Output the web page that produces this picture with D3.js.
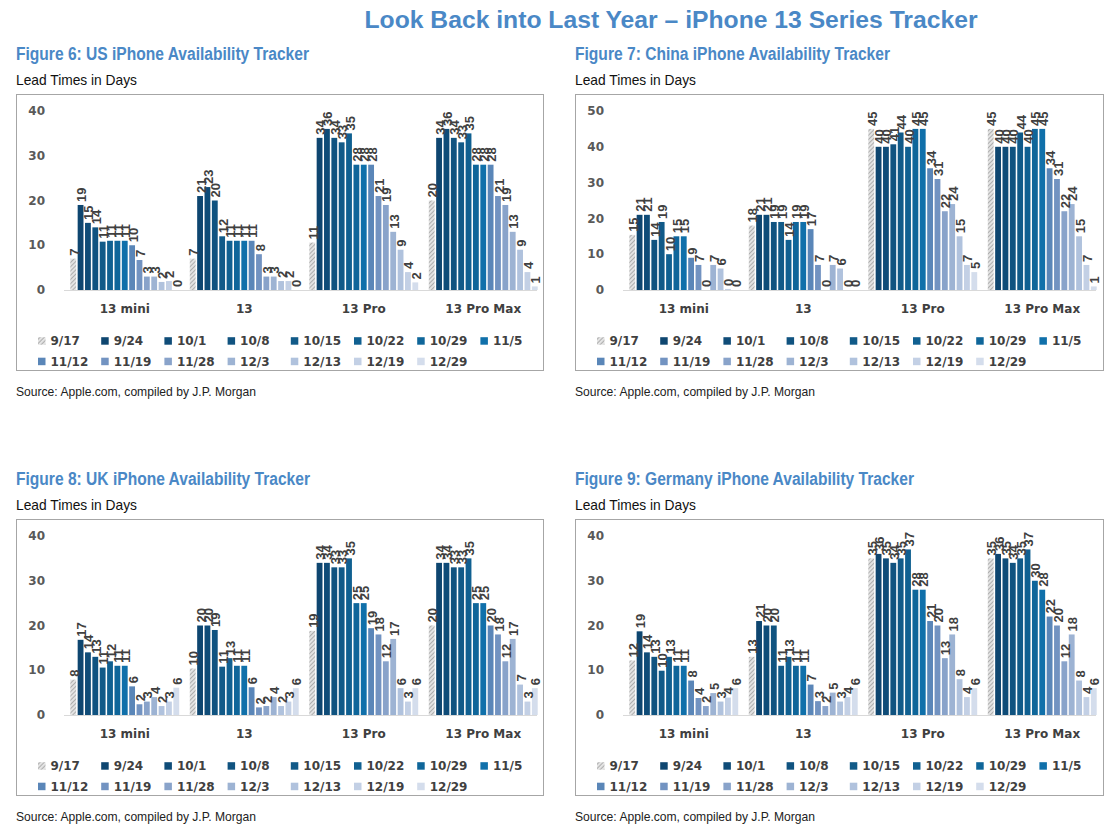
<!DOCTYPE html>
<html><head><meta charset="utf-8">
<script src="https://cdn.jsdelivr.net/npm/d3@7"></script>
<style>
body{margin:0;background:#fff;}
svg{display:block;}
</style></head>
<body>
<svg id="chart" width="1107" height="827"></svg>
<script>
// ---------- DATA ----------
const categories = ["13 mini", "13", "13 Pro", "13 Pro Max"];
const dates = ["9/17","9/24","10/1","10/8","10/15","10/22","10/29","11/5","11/12","11/19","11/28","12/3","12/13","12/19","12/29"];
const seriesColors = ["hatch","#0e4670","#0f4c78","#105380","#115a88","#106091","#0f669a","#1070aa","#5a86b8","#7293c1","#89a3ca","#9db3d3","#b0c2dd","#c3d0e5","#d4ddec"];

const usMini   = [7,19,15,14,10.8,11,11,11,10,6.7,3,3,1.8,2,0];
const us13     = [7,21,23,20,12,11,11,11,11,8,3,3,2,2,0];
const usPro    = [10.6,34,36,34,33,35,28,28,28,21,19,13,9,4,1.7];
const usProMax = [20,34,36,34,33,35,28,28,28,21,19,13,9,4,0.8];

const cnMini   = [15.4,21,21,14,19,10,15,15,9,7,0,7,6,0.3,0];
const cn13     = [18,21,21,19,19,14,19,19,17,7,0,7,6,0,0];
const cnPro    = [45,40,40,40.7,44,40,45,45,34,31,22,24,15,7,5];
const cnProMax = [45,40,40,40,44,40,45,45,34,31,22,24,15,7,1];

const ukMini   = [7.9,16.8,14,13,10.6,12,11,11,6.4,2.4,3,4,2,3,6.1];
const uk13     = [10.4,20,20,19,10.8,12.7,11,11,6.2,1.7,2,4,2,3,6];
const ukPro    = [18.8,34,34,33,33,35,25,25,19.4,18,12,17,6,3,6];
const ukProMax = [20,34,34,33,33,35,25,25,20,18,12,17,6.8,3,6];

const deMini   = [12.2,18.7,14,13,9.9,13,11,11,7.7,3.8,2,4.9,3,3.9,6];
const de13     = [13,21,20,20,11,13,11,11,6.8,3.1,2,5,3,4,6];
const dePro    = [35,36,35,34,35,37,28,28,21,20,12.7,18,8,4,6];
const deProMax = [35,36,35,34,35,37,30,28,22,20,12,18,7.7,4,6];

const yTicksUS = [0,10,20,30,40];
const yTicksCN = [0,10,20,30,40,50];

const mainTitle = "Look Back into Last Year – iPhone 13 Series Tracker";
const panels = [
  {title:"Figure 6: US iPhone Availability Tracker", tw:293, values:[usMini,us13,usPro,usProMax], ticks:yTicksUS, ox:16, oy:0, w:527},
  {title:"Figure 7: China iPhone Availability Tracker", tw:315, values:[cnMini,cn13,cnPro,cnProMax], ticks:yTicksCN, ox:575, oy:0, w:528},
  {title:"Figure 8: UK iPhone Availability Tracker", tw:294, values:[ukMini,uk13,ukPro,ukProMax], ticks:yTicksUS, ox:16, oy:425, w:527},
  {title:"Figure 9: Germany iPhone Availability Tracker", tw:339, values:[deMini,de13,dePro,deProMax], ticks:yTicksUS, ox:575, oy:425, w:528}
];
const subtitle = "Lead Times in Days";
const source = "Source: Apple.com, compiled by J.P. Morgan";

// ---------- DRAW ----------
const svg = d3.select("#chart");
const NARROW = "'Liberation Sans Narrow','Arial Narrow','Liberation Sans',Arial,sans-serif";
const CHART_FONT = "'DejaVu Sans',sans-serif";
const LABEL_FONT = "'Liberation Sans',Arial,sans-serif";
const BLUE = "#4a88c6";

const defs = svg.append("defs");
const pat = defs.append("pattern").attr("id","hatch").attr("patternUnits","userSpaceOnUse")
  .attr("width",3).attr("height",3).attr("patternTransform","rotate(45)");
pat.append("rect").attr("width",3).attr("height",3).attr("fill","#e3e3e3");
pat.append("line").attr("x1",0).attr("y1",0).attr("x2",0).attr("y2",3).attr("stroke","#8a8a8a").attr("stroke-width",1.2);
const fillOf = i => seriesColors[i] === "hatch" ? "url(#hatch)" : seriesColors[i];

svg.append("text").attr("x",671).attr("y",28).attr("text-anchor","middle")
  .attr("font-family",LABEL_FONT).attr("font-weight","bold").attr("font-size",23)
  .attr("fill",BLUE).attr("textLength",613).attr("lengthAdjust","spacingAndGlyphs").text(mainTitle);

panels.forEach(p => {
  const g = svg.append("g").attr("transform",`translate(${p.ox},${p.oy})`);
  g.append("text").attr("x",0).attr("y",60).attr("font-family",NARROW).attr("font-weight","bold")
    .attr("font-size",18).attr("fill",BLUE).attr("textLength",p.tw).attr("lengthAdjust","spacingAndGlyphs").text(p.title);
  g.append("text").attr("x",0).attr("y",85).attr("font-family",NARROW)
    .attr("font-size",15).attr("fill","#111").attr("textLength",121).attr("lengthAdjust","spacingAndGlyphs").text(subtitle);
  g.append("rect").attr("x",0.5).attr("y",94.5).attr("width",p.w).attr("height",276)
    .attr("fill","none").attr("stroke","#a6a6a6").attr("stroke-width",1);
  g.append("text").attr("x",0).attr("y",396).attr("font-family",NARROW)
    .attr("font-size",13).attr("fill","#222").attr("textLength",240).attr("lengthAdjust","spacingAndGlyphs").text(source);

  const yMax = p.ticks[p.ticks.length-1];
  const y = d3.scaleLinear().domain([0,yMax]).range([290,111]);
  const x0 = d3.scaleBand().domain(categories).range([49,527]);
  const x1 = d3.scaleBand().domain(dates).range([0,x0.bandwidth()]).paddingInner(0.21).paddingOuter(0.72);

  g.selectAll(".yt").data(p.ticks).join("text")
    .attr("x",29).attr("y",d=>y(d)).attr("dy","0.35em").attr("text-anchor","end")
    .attr("font-family",CHART_FONT).attr("font-weight","bold").attr("font-size",12).attr("fill","#595959")
    .text(d=>d);

  g.append("line").attr("x1",48).attr("x2",521).attr("y1",y(0)+0.5).attr("y2",y(0)+0.5)
    .attr("stroke","#d9d9d9").attr("stroke-width",1);

  categories.forEach((c,ci) => {
    const vals = p.values[ci];
    const cg = g.append("g").attr("transform",`translate(${x0(c)},0)`);
    cg.selectAll("rect").data(vals).join("rect")
      .attr("x",(d,i)=>x1(dates[i])).attr("width",x1.bandwidth())
      .attr("y",d=>y(d)).attr("height",d=>y(0)-y(d))
      .attr("fill",(d,i)=>fillOf(i));
    cg.selectAll("text").data(vals).join("text")
      .attr("transform",(d,i)=>`translate(${x1(dates[i])+x1.bandwidth()/2+1},${y(d)-3}) rotate(-90)`)
      .attr("dy","0.35em").attr("text-anchor","start")
      .attr("font-family",LABEL_FONT).attr("font-weight","bold").attr("font-size",13).attr("fill","#404040")
      .text(d=>Math.round(d));
    g.append("text").attr("x",x0(c)+x0.bandwidth()/2).attr("y",313).attr("text-anchor","middle")
      .attr("font-family",CHART_FONT).attr("font-weight","bold").attr("font-size",12).attr("fill","#404040")
      .text(c);
  });

  dates.forEach((dt,i) => {
    const col = i % 8, row = Math.floor(i/8);
    const lx = 22 + col*63.2, ly = 341 + row*20.5;
    g.append("rect").attr("x",lx).attr("y",ly-3.8).attr("width",7.5).attr("height",7.5).attr("fill",fillOf(i));
    g.append("text").attr("x",lx+12.5).attr("y",ly).attr("dy","0.36em")
      .attr("font-family",CHART_FONT).attr("font-weight","bold").attr("font-size",12).attr("fill","#404040")
      .text(dt);
  });
});
</script>
</body></html>
